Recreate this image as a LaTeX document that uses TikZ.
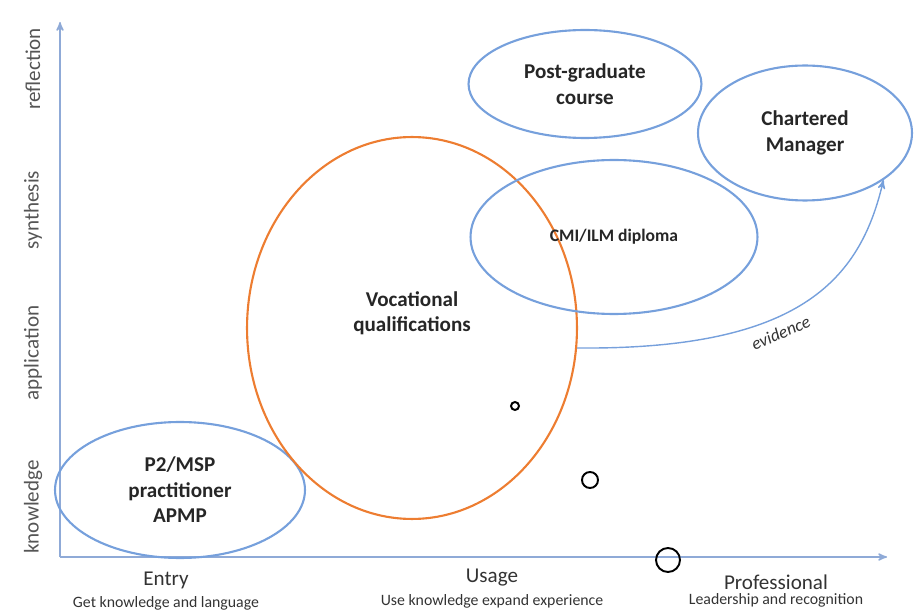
\documentclass[tikz,border=0pt]{standalone}
\usepackage{fontspec}
\setmainfont{Carlito}
\usepackage{tikz}
\usetikzlibrary{arrows, calc, positioning, shapes.geometric}
\definecolor{axisblue}{RGB}{143,170,215}
\definecolor{ellblue}{RGB}{118,160,220}
\definecolor{vqorange}{RGB}{237,125,49}
\definecolor{labgray}{RGB}{85,85,85}
\tikzset{
>=stealth', % arrow heads
every node/.style={inner sep=1pt},
area/.style={ellipse, draw=ellblue, line width=1.2pt, align=center, font=\bfseries\fontsize{12}{14.5}\selectfont, text=black!85},
level/.style={rotate=90, text=labgray, font=\fontsize{12}{14}\selectfont},
stage/.style={text=black!80, font=\fontsize{12}{14}\selectfont},
stagenote/.style={text=black!80, font=\fontsize{9}{10}\selectfont},
dot/.style={circle, draw=black, line width=1.1pt, inner sep=0pt},
}

\begin{document}
\begin{tikzpicture}[x=0.02cm, y=-0.02cm]
  \useasboundingbox (0,0) rectangle (917,611);%keep the page size

  % axes
  \coordinate (origin) at (60,557);
  \coordinate (ytop) at (60,22);
  \coordinate (xend) at (887,557);
  \draw[->, axisblue, line width=0.8pt] (origin) -- (ytop);
  \draw[->, axisblue, line width=0.8pt] (origin) -- (xend);

  % levels on the vertical axis
  \node[level] (knowl) at (33,507) {knowledge};
  \node[level] (appl) at (33,353) {application};
  \node[level] (synth) at (33,210) {synthesis};
  \node[level] (refl) at (33,69) {reflection};

  % stages on the horizontal axis
  \node[stage] (entry) at (166,580) {Entry};
  \node[stagenote, below=2pt of entry] (entrynote) {Get knowledge and language};
  \node[stage] (usage) at (492,578) {Usage};
  \node[stagenote, below=2pt of usage] (usagenote) {Use knowledge expand experience};
  \node[stage] (prof) at (776,582) {Professional};
  \node[stagenote, below=0pt of prof] (profnote) {Leadership and recognition};

  % qualification areas
  \node[area, minimum width=5cm, minimum height=2.72cm] (p2) at (180,490) {P2/MSP\\practitioner\\APMP};
  \node[area, draw=vqorange, minimum width=6.6cm, minimum height=7.64cm] (vq) at (412,328) {};
  \node[area, draw=none] (vqtext) at (412,313) {Vocational\\qualifications};
  \node[area, minimum width=4.66cm, minimum height=2.16cm] (pg) at (585,84) {Post-graduate\\course};
  \node[area, minimum width=4.28cm, minimum height=2.7cm] (cm) at (805,133) {Chartered\\Manager};
  \node[area, font=\bfseries\fontsize{10}{12}\selectfont, minimum width=5.74cm, minimum height=3.08cm] (cmi) at (614,237) {CMI/ILM diploma};

  % small markers
  \node[dot, minimum size=0.16cm] (d1) at (515,406) {};
  \node[dot, minimum size=0.32cm] (d2) at (590,480) {};
  \node[dot, minimum size=0.48cm] (d3) at (668,560) {};

  \coordinate (evstart) at (577,348);
  \draw[->, ellblue, line width=0.8pt] (evstart) .. controls (800,350) and (860,280) .. (cm.-31)
    node[pos=0.4, sloped, below=4pt, text=black!80, font=\itshape\fontsize{10}{11}\selectfont] (evid) {evidence};
\end{tikzpicture}
\end{document}
